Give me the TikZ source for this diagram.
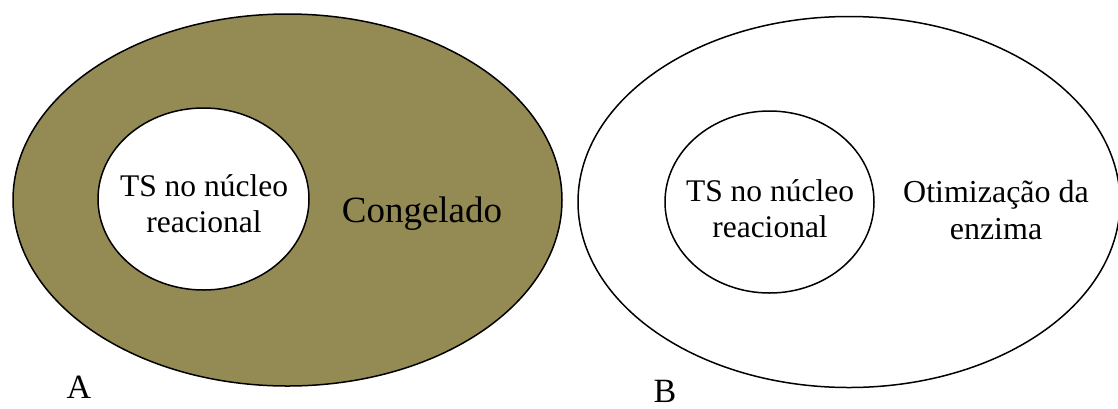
\documentclass[tikz,border=0pt]{standalone}
\usepackage{fontspec}
\setmainfont{Liberation Serif}
\usetikzlibrary{shapes.geometric}
\definecolor{olive}{RGB}{148,138,84}
\tikzset{
  ring/.style={shape=ellipse, draw=black, line width=1.5pt, inner sep=0pt, outer sep=0pt},
  lbl/.style={align=center, inner sep=0pt, font=\fontsize{31.5}{36}\selectfont},
  letter/.style={anchor=base, inner sep=0pt, font=\fontsize{34}{40}\selectfont}
}
\begin{document}
\begin{tikzpicture}[x=1pt,y=-1pt]
\useasboundingbox (0,0) rectangle (1118,408);
% Panel A
\node[ring, fill=olive, minimum width=549pt, minimum height=372pt] (outerA) at (287.5,200) {};
\node[ring, fill=white, minimum width=211pt, minimum height=182pt] (innerA) at (203.5,199) {};
\node[lbl] (tsA) at (204,204) {TS no núcleo\\reacional};
\node[anchor=base, inner sep=0pt, font=\fontsize{37}{42}\selectfont] (cong) at (422,222) {Congelado};
\node[letter] (labA) at (79,398) {A};
% Panel B
\node[ring, fill=white, minimum width=542pt, minimum height=371pt] (outerB) at (849,202) {};
\node[ring, fill=white, minimum width=209pt, minimum height=182pt] (innerB) at (769.5,202) {};
\node[lbl] (tsB) at (770,209) {TS no núcleo\\reacional};
\node[lbl, font=\fontsize{32}{37}\selectfont] (otim) at (996,210) {Otimização da\\enzima};
\node[letter] (labB) at (665,402) {B};
\end{tikzpicture}
\end{document}
